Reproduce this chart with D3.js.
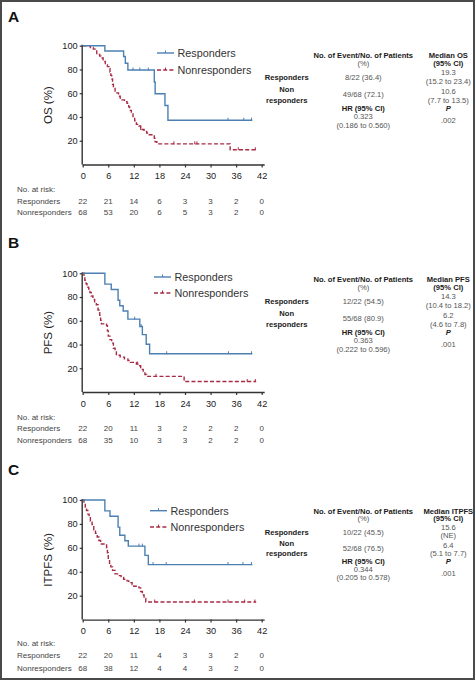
<!DOCTYPE html>
<html><head><meta charset="utf-8">
<script src="https://cdn.jsdelivr.net/npm/d3@7"></script>
<style>
html,body{margin:0;padding:0;background:#fff;}
svg{display:block;font-family:"Liberation Sans",Arial,Helvetica,sans-serif;}
</style></head>
<body>
<svg id="chart" width="475" height="680"></svg>
<script>
// ---------- data ----------
const months = [0, 6, 12, 18, 24, 30, 36, 42];
const yTicks = [20, 40, 60, 80, 100];
const groupNames = ["Responders", "Nonresponders"];
const panelLetters = ["A", "B", "C"];
const yLabels = ["OS (%)", "PFS (%)", "ITPFS (%)"];

// OS
const osRespTime  = [0, 5.2, 9.6, 10.0, 10.6, 16.8, 17.0, 19.3, 20.0];
const osRespSurv  = [100, 95.5, 90.9, 85.2, 79.5, 69.5, 59.6, 49.7, 37.3];
const osRespCensor = [11.8, 13.4, 15.4, 34.1, 37.8, 39.6];
const osRespEnd = 39.8;
const osNonTime = [0, 1.8, 2.5, 3.0, 3.3, 4.0, 4.3, 4.8, 5.0, 5.3, 5.8, 6.2, 6.4, 6.6, 6.8, 7.0, 7.2, 7.6, 8.0, 8.4, 8.8, 9.2, 9.8, 10.4, 10.8, 11.0, 11.4, 11.8, 12.2, 12.6, 13.2, 13.6, 14.4, 15.0, 15.6, 16.8, 17.0, 17.4, 34.6];
const osNonSurv = [100, 98.5, 97.1, 95.6, 92.6, 91.2, 89.7, 88.2, 86.8, 83.8, 82.4, 80.9, 77.9, 75.0, 72.1, 67.6, 64.7, 61.8, 60.3, 57.4, 55.9, 54.4, 52.9, 51.5, 48.5, 45.6, 42.6, 39.7, 36.8, 33.8, 32.4, 29.4, 27.9, 26.5, 25.0, 22.0, 19.1, 17.4, 12.4];
const osNonCensor = [13.6, 21.4, 26.3, 26.8, 36.5, 40.5];
const osNonEnd = 40.7;

// PFS
const pfsRespTime = [0, 5.2, 6.7, 8.3, 8.7, 9.5, 10.6, 13.4, 14.0, 14.9, 15.7];
const pfsRespSurv = [100, 90.9, 86.4, 77.3, 72.7, 68.2, 61.4, 55.2, 48.3, 40.2, 32.2];
const pfsRespCensor = [12.2, 13.7, 19.7, 34.2, 39.6];
const pfsRespEnd = 39.8;
const pfsNonTime = [0, 0.3, 0.5, 0.8, 1.0, 1.4, 1.7, 2.0, 2.4, 2.8, 3.2, 3.6, 4.0, 4.2, 4.4, 5.6, 5.8, 6.0, 6.4, 6.8, 7.2, 7.6, 7.9, 8.8, 9.8, 10.6, 11.2, 12.6, 13.2, 13.6, 14.2, 14.6, 15.0, 23.8];
const pfsNonSurv = [100, 97.1, 94.1, 91.2, 88.2, 86.8, 83.8, 80.9, 77.9, 75.0, 73.5, 69.1, 64.7, 60.3, 57.4, 55.9, 51.5, 47.1, 44.1, 41.2, 36.8, 33.8, 30.9, 29.4, 27.9, 26.5, 25.0, 23.5, 22.1, 19.1, 17.6, 14.7, 13.2, 8.8];
const pfsNonCensor = [12.9, 17.2, 38.6, 40.5];
const pfsNonEnd = 40.7;

// ITPFS
const itRespTime = [0, 5.2, 6.4, 8.3, 8.7, 9.9, 10.7, 14.6, 15.4];
const itRespSurv = [100, 90.9, 86.4, 77.3, 70.5, 65.9, 61.4, 53.7, 46.0];
const itRespCensor = [13.2, 14.0, 16.5, 19.6, 34.1, 37.6, 39.6];
const itRespEnd = 39.8;
const itNonTime = [0, 0.3, 0.6, 0.9, 1.2, 1.5, 1.8, 2.2, 2.6, 3.0, 3.4, 3.8, 4.2, 5.6, 5.8, 6.0, 6.3, 6.6, 7.0, 7.6, 8.2, 9.0, 9.6, 10.4, 10.8, 11.6, 12.0, 13.2, 13.6, 14.0, 14.4, 14.8];
const itNonSurv = [100, 97.1, 94.1, 91.2, 88.2, 85.3, 82.4, 79.4, 75.0, 72.1, 69.1, 66.2, 63.2, 60.3, 55.9, 50.0, 47.1, 44.1, 41.2, 38.2, 36.8, 35.3, 33.8, 32.4, 30.9, 29.4, 27.9, 26.5, 23.5, 20.6, 17.6, 14.7];
const itNonCensor = [16.9, 26.2, 34.1, 38.0, 40.4];
const itNonEnd = 40.7;

// numbers at risk
const osRiskResp  = [22, 21, 14, 6, 3, 3, 2, 0];
const osRiskNon   = [68, 53, 20, 6, 5, 3, 2, 0];
const pfsRiskResp = [22, 20, 11, 3, 2, 2, 2, 0];
const pfsRiskNon  = [68, 35, 10, 3, 3, 2, 2, 0];
const itRiskResp  = [22, 20, 11, 4, 3, 3, 2, 0];
const itRiskNon   = [68, 38, 12, 4, 4, 3, 2, 0];

// summary tables
const medianHeads = ["Median OS", "Median PFS", "Median ITPFS"];
const eventsResp = ["8/22 (36.4)", "12/22 (54.5)", "10/22 (45.5)"];
const eventsNon  = ["49/68 (72.1)", "55/68 (80.9)", "52/68 (76.5)"];
const medianResp = ["19.3", "14.3", "15.6"];
const medianRespCI = ["(15.2 to 23.4)", "(10.4 to 18.2)", "(NE)"];
const medianNon = ["10.6", "6.2", "6.4"];
const medianNonCI = ["(7.7 to 13.5)", "(4.6 to 7.8)", "(5.1 to 7.7)"];
const hrValues = ["0.323", "0.363", "0.344"];
const hrCIs = ["(0.186 to 0.560)", "(0.222 to 0.596)", "(0.205 to 0.578)"];
const pValues = [".002", ".001", ".001"];

// ---------- layout ----------
const BLUE = "#4c80b2", RED = "#a82b45", AX = "#333", TXT = "#444";
const panels = [
  {top: 45.7, bot: 164.5, letterY: 22, tickY: 178, riskY: [192, 204, 215], legY: [53, 70], legX: 157, tabY: 55, tabK: 1.0,
   resp: [osRespTime, osRespSurv, osRespCensor, osRespEnd], non: [osNonTime, osNonSurv, osNonCensor, osNonEnd], risk: [osRiskResp, osRiskNon]},
  {top: 273.3, bot: 392, letterY: 248, tickY: 406, riskY: [419.5, 431, 443], legY: [277, 293], legX: 154, tabY: 279.3, tabK: 1.0,
   resp: [pfsRespTime, pfsRespSurv, pfsRespCensor, pfsRespEnd], non: [pfsNonTime, pfsNonSurv, pfsNonCensor, pfsNonEnd], risk: [pfsRiskResp, pfsRiskNon]},
  {top: 500, bot: 619.6, letterY: 475, tickY: 634.5, riskY: [645.5, 658, 670.5], legY: [510.7, 527], legX: 150, tabY: 511, tabK: 0.95,
   resp: [itRespTime, itRespSurv, itRespCensor, itRespEnd], non: [itNonTime, itNonSurv, itNonCensor, itNonEnd], risk: [itRiskResp, itRiskNon]}
];

const svg = d3.select("#chart");
// frame
svg.append("rect").attr("x", 1).attr("y", 1).attr("width", 473).attr("height", 678)
  .attr("fill", "none").attr("stroke", "#4a4a4a").attr("stroke-width", 2);

const x = d3.scaleLinear().domain([0, 42]).range([82.7, 261.7]);

function stepValue(times, surv, t) {
  let v = surv[0];
  for (let i = 0; i < times.length; i++) if (times[i] <= t) v = surv[i];
  return v;
}

panels.forEach((p, i) => {
  const g = svg.append("g");
  const y = d3.scaleLinear().domain([0, 100]).range([p.bot, p.top]);

  g.append("text").attr("x", 8).attr("y", p.letterY).text(panelLetters[i])
    .attr("font-size", 15.5).attr("font-weight", "bold").attr("fill", "#111");

  // axes
  const yAx = g.append("g").attr("transform", `translate(${x(0)},0)`)
    .call(d3.axisLeft(y).tickValues(yTicks).tickSize(3).tickPadding(2));
  const xAx = g.append("g").attr("transform", `translate(0,${p.bot})`)
    .call(d3.axisBottom(x).tickValues(months).tickSize(3).tickPadding(5));
  [yAx, xAx].forEach(a => {
    a.select(".domain").attr("stroke", AX).attr("stroke-width", 1.4);
    a.selectAll(".tick line").attr("stroke", AX).attr("stroke-width", 1.2);
    a.selectAll(".tick text").attr("fill", "#222").attr("font-size", 9.2)
      .attr("font-family", "Liberation Sans, Arial, sans-serif");
  });
  yAx.select(".domain").attr("d", `M-0.5,${p.bot}V${p.top - 1}`);
  xAx.select(".domain").attr("d", `M${x(0)},0.5H${x(42) + 3}`);

  g.append("text").attr("transform", `translate(52,${(p.top + p.bot) / 2}) rotate(-90)`)
    .attr("text-anchor", "middle").attr("font-size", 11.5).attr("fill", "#222").text(yLabels[i]);

  // curves
  const line = d3.line().curve(d3.curveStepAfter).x(d => x(d[0])).y(d => y(d[1]));
  [[p.non, RED, "4,2.2"], [p.resp, BLUE, null]].forEach(([s, col, dash]) => {
    const [times, surv, cens, end] = s;
    const pts = times.map((t, k) => [t, surv[k]]);
    pts.push([end, surv[surv.length - 1]]);
    const path = g.append("path").datum(pts).attr("d", line).attr("fill", "none")
      .attr("stroke", col).attr("stroke-width", 1.4);
    if (dash) path.attr("stroke-dasharray", dash);
    g.selectAll(null).data(cens).enter().append("line")
      .attr("x1", d => x(d)).attr("x2", d => x(d))
      .attr("y1", d => y(stepValue(times, surv, d)) - 2.5)
      .attr("y2", d => y(stepValue(times, surv, d)) + 0.5)
      .attr("stroke", col).attr("stroke-width", 1);
  });

  // legend
  groupNames.forEach((name, k) => {
    const ly = p.legY[k], col = k === 0 ? BLUE : RED;
    const l = g.append("line").attr("x1", p.legX).attr("x2", p.legX + 17).attr("y1", ly).attr("y2", ly)
      .attr("stroke", col).attr("stroke-width", 1.4);
    if (k === 1) l.attr("stroke-dasharray", "4,2.2");
    g.append("line").attr("x1", p.legX + 8.5).attr("x2", p.legX + 8.5).attr("y1", ly - 2.5).attr("y2", ly)
      .attr("stroke", col).attr("stroke-width", 1);
    g.append("text").attr("x", p.legX + 20.5).attr("y", ly + 3.8).attr("font-size", 10.8)
      .attr("fill", "#333").text(name);
  });

  // risk table
  g.append("text").attr("x", 17).attr("y", p.riskY[0]).attr("font-size", 8).attr("fill", TXT).text("No. at risk:");
  groupNames.forEach((name, k) => {
    g.append("text").attr("x", 17).attr("y", p.riskY[k + 1]).attr("font-size", 8).attr("fill", TXT).text(name);
    g.selectAll(null).data(p.risk[k]).enter().append("text")
      .attr("x", (d, j) => x(months[j])).attr("y", p.riskY[k + 1])
      .attr("text-anchor", "middle").attr("font-size", 8).attr("fill", TXT).text(d => d);
  });

  // summary table
  const c1 = 286.7, c2 = 363.3, c3 = 448.3, k = p.tabK, y0 = p.tabY + 2.6;
  const cells = [
    [c2, 0, "No. of Event/No. of Patients", true],
    [c2, 8, "(%)", false],
    [c3, 0, medianHeads[i], true],
    [c3, 8, "(95% CI)", true],
    [c3, 17, medianResp[i], false],
    [c3, 26, medianRespCI[i], false],
    [c1, 22.5, "Responders", true],
    [c2, 22.5, eventsResp[i], false],
    [c1, 34, "Non", true],
    [c1, 45, "responders", true],
    [c2, 39.5, eventsNon[i], false],
    [c3, 36, medianNon[i], false],
    [c3, 45, medianNonCI[i], false],
    [c2, 53.5, "HR (95% CI)", true],
    [c3, 53.5, "P", true],
    [c2, 61.5, hrValues[i], false],
    [c2, 70, hrCIs[i], false],
    [c3, 65.5, pValues[i], false]
  ];
  cells.forEach(([cx, dy, t, bold]) => {
    const te = g.append("text").attr("x", cx).attr("y", y0 + dy * k).attr("text-anchor", "middle")
      .attr("font-size", 7.6).attr("fill", bold ? "#1a1a1a" : "#555").text(t);
    if (bold) te.attr("font-weight", "bold");
    if (t === "P") te.attr("font-style", "italic");
  });
});
</script>
</body></html>
